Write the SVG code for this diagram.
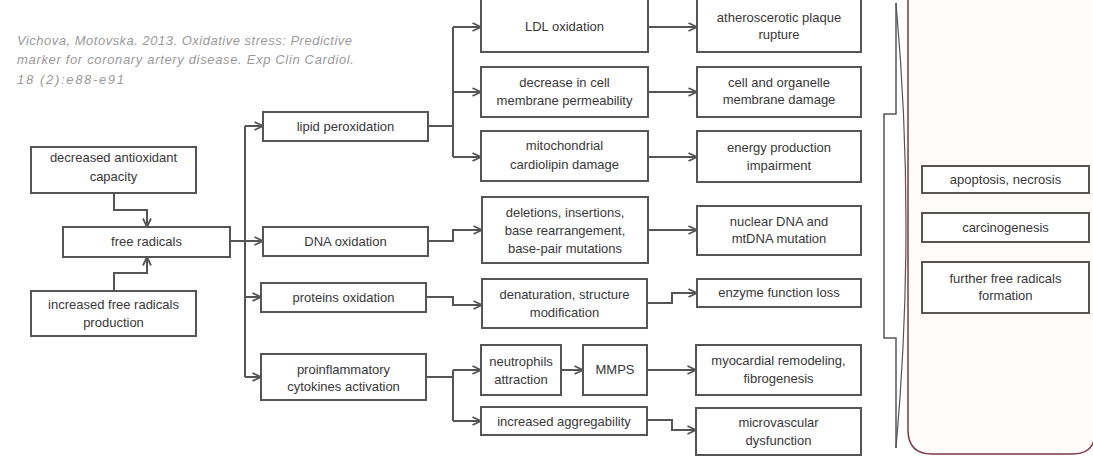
<svg xmlns="http://www.w3.org/2000/svg" width="1093" height="456" viewBox="0 0 1093 456">
<defs>
<style>
.box{fill:#ffffff;stroke:#555555;stroke-width:2}
.t{font-family:"Liberation Sans",Arial,sans-serif;font-size:13px;fill:#383838;text-anchor:middle}
.cite{font-family:"Liberation Sans",Arial,sans-serif;font-size:13px;font-style:italic;fill:#9a9a9a}
.c{fill:none;stroke:#555555;stroke-width:2}
.ca{fill:none;stroke:#555555;stroke-width:2;marker-end:url(#arr)}
</style>
<marker id="arr" viewBox="0 0 10 10" refX="9.5" refY="5" markerWidth="10" markerHeight="10" markerUnits="userSpaceOnUse" orient="auto">
<path d="M1,1 L9.5,5 L1,9" fill="none" stroke="#555555" stroke-width="1.8"/>
</marker>
</defs>
<rect x="0" y="0" width="1093" height="456" fill="#ffffff"/>

<g id="citation">
<text class="cite" x="17" y="45" textLength="335">Vichova, Motovska. 2013. Oxidative stress: Predictive</text>
<text class="cite" x="17" y="64" textLength="337">marker for coronary artery disease. Exp Clin Cardiol.</text>
<text class="cite" x="17" y="84" textLength="107">18 (2):e88-e91</text>
</g>

<g id="outcome-frame">
<path d="M908,-10 V430 Q908,454 932,454 H1073 Q1095,454 1095,432 V-10" fill="#fffcfb" stroke="#7a3a48" stroke-width="1.5"/>
</g>

<g id="brace">
<path d="M896,3 V114 H884 V338 H896 V448" fill="none" stroke="#555555" stroke-width="1.5"/>
<path d="M896,3 Q916,225 896,448" fill="none" stroke="#555555" stroke-width="1.2"/>
</g>

<g id="connectors">
<polyline class="ca" points="114,193 114,210 147,210 147,227"/>
<polyline class="ca" points="114,291 114,273 147,273 147,257"/>
<line class="c" x1="230" y1="241" x2="245" y2="241"/>
<line class="c" x1="245" y1="126" x2="245" y2="377"/>
<line class="ca" x1="245" y1="126" x2="263" y2="126"/>
<line class="ca" x1="245" y1="241" x2="263" y2="241"/>
<line class="ca" x1="245" y1="297" x2="261" y2="297"/>
<line class="ca" x1="245" y1="377" x2="261" y2="377"/>
<line class="c" x1="428" y1="126" x2="453" y2="126"/>
<line class="c" x1="453" y1="27" x2="453" y2="157"/>
<line class="ca" x1="453" y1="27" x2="481" y2="27"/>
<line class="ca" x1="453" y1="92" x2="481" y2="92"/>
<line class="ca" x1="453" y1="157" x2="481" y2="157"/>
<polyline class="ca" points="428,241 453,241 453,230 482,230"/>
<polyline class="ca" points="426,297 453,297 453,305 482,305"/>
<line class="c" x1="426" y1="377" x2="453" y2="377"/>
<line class="c" x1="453" y1="370" x2="453" y2="421"/>
<line class="ca" x1="453" y1="370" x2="481" y2="370"/>
<line class="ca" x1="453" y1="421" x2="481" y2="421"/>
<line class="ca" x1="561" y1="370" x2="583" y2="370"/>
<line class="ca" x1="647" y1="370" x2="696" y2="370"/>
<polyline class="ca" points="647,420 672,420 672,430 696,430"/>
<line class="ca" x1="648" y1="27" x2="697" y2="27"/>
<line class="ca" x1="648" y1="92" x2="697" y2="92"/>
<line class="ca" x1="648" y1="157" x2="697" y2="157"/>
<line class="ca" x1="648" y1="230" x2="697" y2="230"/>
<polyline class="ca" points="648,303 672,303 672,293 697,293"/>
</g>

<g id="decreased-antioxidant">
<rect class="box" x="31" y="147" width="165" height="46"/>
<text class="t" x="113.5" y="162">decreased antioxidant</text>
<text class="t" x="113.5" y="181">capacity</text>
</g>
<g id="free-radicals">
<rect class="box" x="63" y="227" width="167" height="30"/>
<text class="t" x="146.5" y="246">free radicals</text>
</g>
<g id="increased-production">
<rect class="box" x="31" y="291" width="165" height="45"/>
<text class="t" x="113.5" y="309">increased free radicals</text>
<text class="t" x="113.5" y="327">production</text>
</g>

<g id="lipid-peroxidation">
<rect class="box" x="263" y="112" width="165" height="29"/>
<text class="t" x="345.5" y="131">lipid peroxidation</text>
</g>
<g id="dna-oxidation">
<rect class="box" x="263" y="227" width="165" height="29"/>
<text class="t" x="345.5" y="246">DNA oxidation</text>
</g>
<g id="proteins-oxidation">
<rect class="box" x="261" y="283" width="165" height="29"/>
<text class="t" x="343.5" y="302">proteins oxidation</text>
</g>
<g id="proinflammatory">
<rect class="box" x="261" y="354" width="165" height="46"/>
<text class="t" x="343.5" y="374">proinflammatory</text>
<text class="t" x="343.5" y="391">cytokines activation</text>
</g>

<g id="ldl-oxidation">
<rect class="box" x="481" y="-10" width="167" height="62"/>
<text class="t" x="564.5" y="31">LDL oxidation</text>
</g>
<g id="membrane-permeability">
<rect class="box" x="481" y="67" width="167" height="50"/>
<text class="t" x="564.5" y="87">decrease in cell</text>
<text class="t" x="564.5" y="105">membrane permeability</text>
</g>
<g id="cardiolipin-damage">
<rect class="box" x="481" y="131" width="167" height="50"/>
<text class="t" x="564.5" y="150">mitochondrial</text>
<text class="t" x="564.5" y="169">cardiolipin damage</text>
</g>
<g id="deletions">
<rect class="box" x="482" y="197" width="166" height="66"/>
<text class="t" x="565" y="217">deletions, insertions,</text>
<text class="t" x="565" y="235">base rearrangement,</text>
<text class="t" x="565" y="253">base-pair mutations</text>
</g>
<g id="denaturation">
<rect class="box" x="482" y="279" width="165" height="49"/>
<text class="t" x="564.5" y="299">denaturation, structure</text>
<text class="t" x="564.5" y="317">modification</text>
</g>
<g id="neutrophils">
<rect class="box" x="481" y="345" width="80" height="50"/>
<text class="t" x="521" y="366">neutrophils</text>
<text class="t" x="521" y="384">attraction</text>
</g>
<g id="mmps">
<rect class="box" x="583" y="345" width="64" height="50"/>
<text class="t" x="615" y="374">MMPS</text>
</g>
<g id="aggregability">
<rect class="box" x="481" y="407" width="166" height="28"/>
<text class="t" x="564" y="426">increased aggregability</text>
</g>

<g id="plaque-rupture">
<rect class="box" x="697" y="-10" width="164" height="62"/>
<text class="t" x="779" y="22">atheroscerotic plaque</text>
<text class="t" x="779" y="39">rupture</text>
</g>
<g id="membrane-damage">
<rect class="box" x="697" y="67" width="164" height="50"/>
<text class="t" x="779" y="87">cell and organelle</text>
<text class="t" x="779" y="104">membrane damage</text>
</g>
<g id="energy-impairment">
<rect class="box" x="697" y="131" width="164" height="51"/>
<text class="t" x="779" y="152">energy production</text>
<text class="t" x="779" y="170">impairment</text>
</g>
<g id="dna-mutation">
<rect class="box" x="697" y="206" width="164" height="49"/>
<text class="t" x="779" y="226">nuclear DNA and</text>
<text class="t" x="779" y="243">mtDNA mutation</text>
</g>
<g id="enzyme-loss">
<rect class="box" x="697" y="279" width="164" height="28"/>
<text class="t" x="779" y="297">enzyme function loss</text>
</g>
<g id="myocardial-remodeling">
<rect class="box" x="696" y="345" width="165" height="50"/>
<text class="t" x="778.5" y="365">myocardial remodeling,</text>
<text class="t" x="778.5" y="383">fibrogenesis</text>
</g>
<g id="microvascular">
<rect class="box" x="696" y="408" width="165" height="47"/>
<text class="t" x="778.5" y="427">microvascular</text>
<text class="t" x="778.5" y="445">dysfunction</text>
</g>

<g id="apoptosis">
<rect class="box" x="922" y="166" width="167" height="27"/>
<text class="t" x="1005.5" y="184">apoptosis, necrosis</text>
</g>
<g id="carcinogenesis">
<rect class="box" x="922" y="213" width="167" height="29"/>
<text class="t" x="1005.5" y="232">carcinogenesis</text>
</g>
<g id="further-radicals">
<rect class="box" x="922" y="262" width="167" height="51"/>
<text class="t" x="1005.5" y="283">further free radicals</text>
<text class="t" x="1005.5" y="300">formation</text>
</g>
</svg>
